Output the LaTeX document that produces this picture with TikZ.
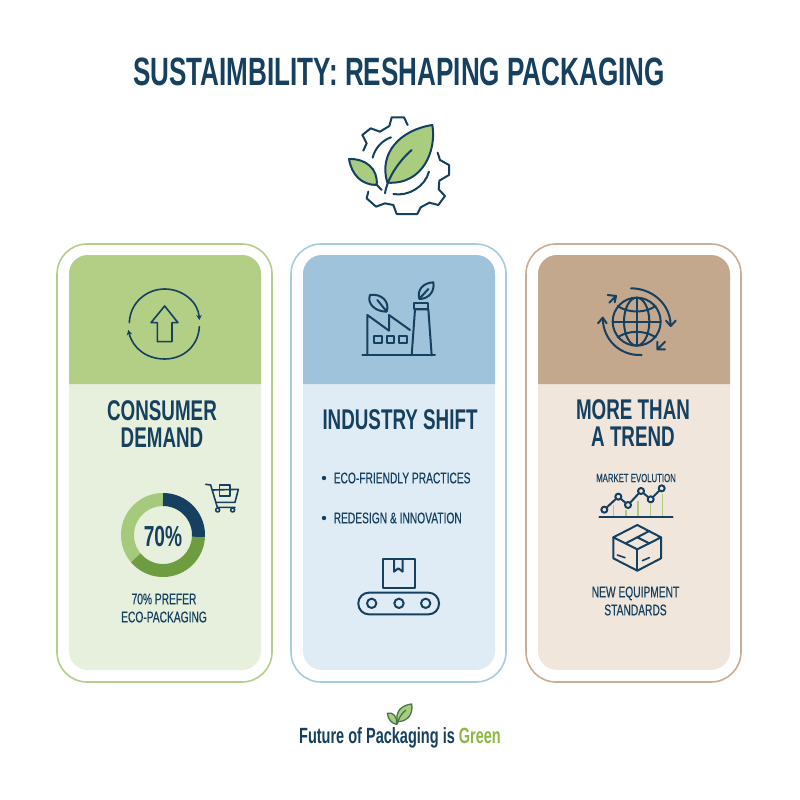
\documentclass[tikz,border=0pt]{standalone}
\usepackage{fontspec}
\setmainfont{Liberation Sans}[FakeStretch=0.66]
\newfontfamily\medfont{Liberation Sans}[FakeStretch=0.66, FakeBold=0.35]
\usetikzlibrary{calc,arrows.meta}
\definecolor{navy}{HTML}{15405F}
\definecolor{leafgreen}{HTML}{A9CC7F}
\definecolor{midgreen}{HTML}{6E9C41}
\definecolor{wordgreen}{HTML}{8DB843}
\definecolor{greenhead}{HTML}{B3CE85}
\definecolor{greenbody}{HTML}{E7F0DC}
\definecolor{greenline}{HTML}{B5CE8A}
\definecolor{bluehead}{HTML}{A0C3DC}
\definecolor{bluebody}{HTML}{E0ECF5}
\definecolor{blueline}{HTML}{A7CBE0}
\definecolor{tanhead}{HTML}{C4A88E}
\definecolor{tanbody}{HTML}{F0E6DC}
\definecolor{tanline}{HTML}{C9AE97}

\begin{document}
\begin{tikzpicture}[x=1pt, y=-1pt, >={Stealth[length=5pt, width=5.5pt]},
	icon/.style={draw=navy, line width=2pt, line join=round, line cap=round},
	thin icon/.style={icon, line width=1.6pt},
	leaf/.style={icon, fill=leafgreen},
	heading/.style={text=navy, align=center, font=\bfseries\fontsize{28.5}{26.5}\selectfont},
	small label/.style={text=navy, align=center, font=\medfont\fontsize{15.5}{18}\selectfont}]
	
	\useasboundingbox (0,0) rectangle (800,800);
	\fill [white] (0,0) rectangle (800,800);
	
	\node [text=navy, font=\bfseries\fontsize{39.5}{35}\selectfont] (title) at (399,72) {SUSTAIMBILITY: RESHAPING PACKAGING};
	
	\foreach \x/\c in {57/green,291/blue,526/tan} {
		\draw [\c line, line width=1.6pt, rounded corners=30pt] (\x,244) rectangle ++(215,438);
		\fill [\c body, rounded corners=19pt] (\x+12,255) rectangle ++(192,415);
		\fill [\c head, rounded corners=19pt] (\x+12,384) -- (\x+12,255) -- (\x+204,255) [sharp corners] -- (\x+204,384) -- cycle;
	}
	
	\begin{scope}[shift={(330,110)}, scale=1/3]
		\draw [icon] (100,122) -- (110,100) -- (97,75) -- (122,55) -- (150,65) -- (178,48) -- (185,22) -- (222,22) -- (233,45);
		\draw [icon] (323,128) -- (330,150) -- (357,165) -- (357,195) -- (328,212) -- (326,238) -- (345,258) -- (325,285) -- (298,278) -- (272,292) -- (262,312) -- (237,312)
			(237,312) -- (200,312) -- (190,285) -- (165,280) -- (138,290) -- (110,265) -- (115,245);
		\draw [icon] (128,143) .. controls (135,115) and (155,92) .. (183,82);
		\draw [icon] (190,252) .. controls (235,260) and (285,230) .. (297,185);
		\draw [leaf] (172,218) .. controls (145,130) and (210,60) .. (307,45) .. controls (320,120) and (280,225) .. (172,218) -- cycle;
		\draw [icon] (165,250) .. controls (172,205) and (205,155) .. (245,120);
		\draw [leaf] (57,147) .. controls (105,145) and (145,175) .. (140,225) .. controls (95,225) and (65,195) .. (57,147) -- cycle;
		\draw [icon] (155,240) -- (138,222);
	\end{scope}
	
	\begin{scope}[shift={(50,240)}, scale=1/3]
		\draw [thin icon, ->] (238,248) .. controls (240,188) and (290,147) .. (344,147) .. controls (400,147) and (445,188) .. (448,240);
		\draw [thin icon, ->] (448,260) .. controls (445,318) and (400,357) .. (344,357) .. controls (290,357) and (248,325) .. (235,270);
		\draw [thin icon] (344,198) -- (384,248) -- (366,248) -- (366,305) -- (322,305) -- (322,248) -- (303,248) -- cycle;
	\end{scope}
	
	\node [heading] (consumer) at (162,424) {CONSUMER\\DEMAND};
	
	\draw [line width=13pt, leafgreen!95!midgreen] plot [domain=140:270, samples=40] ({163+35.5*cos(\x)},{535+35.5*sin(\x)});
	\draw [line width=13pt, midgreen] plot [domain=3:140, samples=40] ({163+35.5*cos(\x)},{535+35.5*sin(\x)});
	\draw [line width=13pt, navy] plot [domain=-90:3, samples=40] ({163+35.5*cos(\x)},{535+35.5*sin(\x)});
	
	\begin{scope}[shift={(90,470)}, scale=1/3]
		\draw [thin icon] (347,43) -- (362,45) -- (382,112) -- (435,112);
		\draw [thin icon] (368,60) -- (445,58) -- (435,97) -- (378,97);
		\draw [thin icon] (388,45) rectangle (420,78);
		\draw [thin icon] (383,120) circle (6);
		\draw [thin icon] (428,120) circle (6);
	\end{scope}
	
	\node [text=navy, font=\bfseries\fontsize{29}{27}\selectfont] (percent) at (163,537) {70\%};
	\node [small label] (prefer) at (164,608) {70\% PREFER\\ECO-PACKAGING};
	
	\begin{scope}[shift={(340,270)}, scale=1/3]
		\draw [icon] (67,256) -- (285,256);
		\draw [icon] (82,256) -- (82,135) -- (147,182) -- (147,135) -- (210,180);
		\draw [icon] (215,256) -- (225,118) -- (265,118) -- (275,256);
		\draw [icon] (222,98) rectangle (265,118);
		\foreach \x in {102,140,178}
		\draw [icon] (\x,198) rectangle ++(23,22);
		\draw [icon] (140,125) .. controls (105,125) and (80,100) .. (90,75) .. controls (125,70) and (150,95) .. (140,125) -- cycle;
		\draw [icon] (138,122) -- (112,90);
		\draw [icon] (238,87) .. controls (230,60) and (250,38) .. (280,37) .. controls (285,65) and (265,87) .. (238,87) -- cycle;
		\draw [icon] (240,84) -- (265,57);
	\end{scope}
	
	\node [heading] (industry) at (400,420) {INDUSTRY SHIFT};
	
	\foreach \y/\l [count=\i] in {478/ECO-FRIENDLY PRACTICES,518/REDESIGN \& INNOVATION} {
		\fill [navy] (324,\y) circle (2.2);
		\node [small label, anchor=west, inner sep=0pt] (point-\i) at (333.5,\y) {\l};
	}
	
	\begin{scope}[shift={(310,460)}, scale=1/3]
		\draw [icon] (220,298) rectangle (314,383);
		\draw [icon] (252,298) -- (252,335) -- (265,325) -- (278,335) -- (278,298);
		\draw [icon, rounded corners=10.5pt] (145,398) rectangle (387,463);
		\foreach \x in {185,267,347}
		\draw [icon] (\x,430) circle (14);
	\end{scope}
	
	\begin{scope}[shift={(580,270)}, scale=1/3]
		\draw [icon] (170,155) circle (72);
		\draw [icon] (170,155) ellipse (38 and 72);
		\draw [icon] (170,83) -- (170,227);
		\draw [icon] (98,155) -- (242,155);
		\draw [icon] (113,108) .. controls (145,130) and (195,130) .. (227,108);
		\draw [icon] (113,202) .. controls (145,180) and (195,180) .. (227,202);
		\draw [icon] (153,55) .. controls (215,55) and (270,100) .. (272,165);
		\draw [icon] (258,152) -- (272,168) -- (287,152);
		\draw [icon] (185,255) .. controls (120,258) and (70,210) .. (68,145);
		\draw [icon] (54,160) -- (68,143) -- (80,160);
		\draw [icon] (88,98) -- (108,78) (83,75) -- (108,78) -- (104,97);
		\draw [icon] (255,215) -- (232,238) (232,215) -- (232,238) -- (255,238);
	\end{scope}
	
	\node [heading] (trend) at (633,423) {MORE THAN\\A TREND};
	\node [text=navy, font=\medfont\fontsize{11.8}{12.5}\selectfont] (market) at (636,478) {MARKET EVOLUTION};
	
	\begin{scope}[shift={(560,460)}, scale=1/3]
		\foreach \x/\y in {161/135,198/150,234/122,271/132,308/103}
		\draw [leafgreen, line width=1.5pt] (\x,\y) -- (\x,172);
		\draw [icon] (118,172) -- (338,172);
		\draw [icon] (133,149) -- (175,110) -- (204,135) -- (243,93) -- (272,118) -- (305,85);
		\foreach \x/\y in {133/149,175/110,204/135,243/93,272/118,305/85}
		\draw [icon, fill=tanbody] (\x,\y) circle (9);
		\draw [icon] (232,195) -- (303,232) -- (232,268) -- (160,232) -- cycle;
		\draw [icon] (160,232) -- (160,295) -- (232,332) -- (303,295) -- (303,232);
		\draw [icon] (232,268) -- (232,332);
		\draw [icon] (197,250) -- (268,213) (232,232) -- (268,250);
		\draw [thin icon] (172,285) -- (195,293) (247,302) -- (268,293);
	\end{scope}
	
	\node [small label] (equipment) at (635.5,601) {NEW EQUIPMENT\\STANDARDS};
	
	\begin{scope}[shift={(280,695)}, scale=1/3]
		\draw [leaf, draw=midgreen!60!navy, line width=1.3pt] (352,80) .. controls (345,50) and (365,30) .. (395,27) .. controls (400,55) and (385,80) .. (352,80) -- cycle;
		\draw [leaf, draw=midgreen!60!navy, line width=1.3pt] (322,55) .. controls (340,50) and (352,65) .. (350,88) .. controls (335,85) and (325,75) .. (322,55) -- cycle;
		\draw [draw=midgreen!60!navy, line width=1.3pt] (352,88) .. controls (355,70) and (365,55) .. (378,45);
	\end{scope}
	
	\node [text=navy, font=\bfseries\fontsize{22}{18.5}\selectfont] (footer) at (400,738) {Future of Packaging is \textcolor{wordgreen}{Green}};
	
\end{tikzpicture}
\end{document}
